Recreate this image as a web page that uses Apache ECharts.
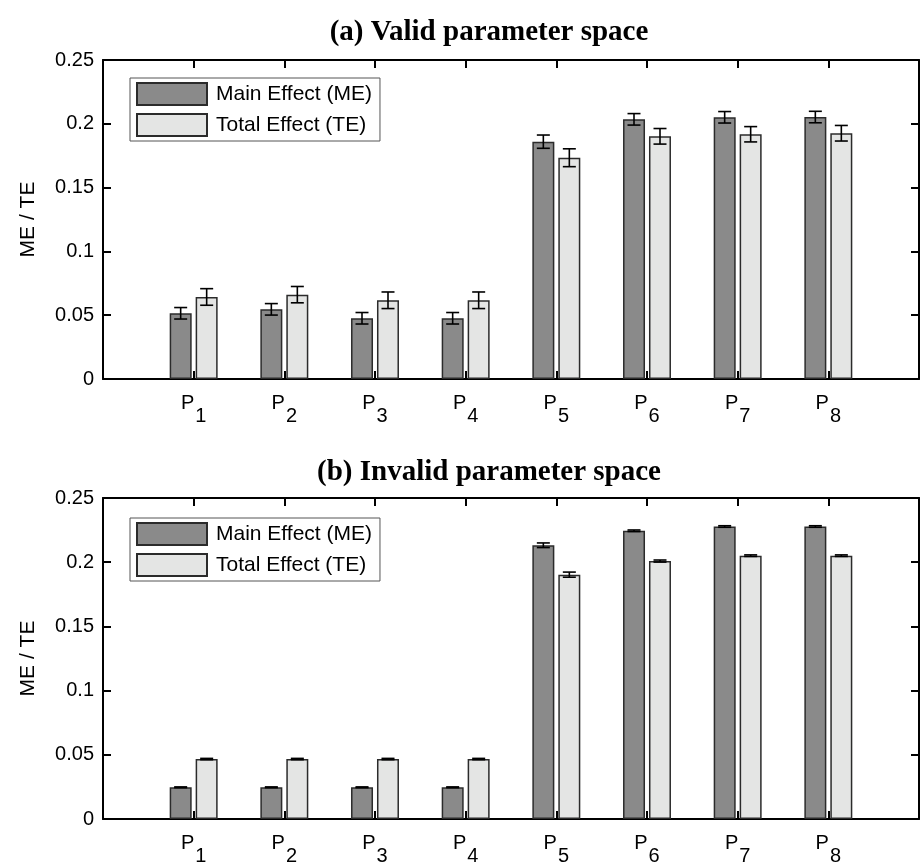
<!DOCTYPE html>
<html>
<head>
<meta charset="utf-8">
<script src="https://cdn.jsdelivr.net/npm/echarts@6/dist/echarts.min.js"></script>
<style>html,body{margin:0;padding:0;background:#fff}#c{width:921px;height:862px}</style>
</head>
<body>
<div id="c"></div>
<script>
// ---- data ----
const categories = ['1', '2', '3', '4', '5', '6', '7', '8'];
const xPositions = [1, 2, 3, 4, 5, 6, 7, 8];
const yTickLabels = ['0', '0.05', '0.1', '0.15', '0.2', '0.25'];
const seriesNames = ['Main Effect (ME)', 'Total Effect (TE)'];
const titles = ['(a) Valid parameter space', '(b) Invalid parameter space'];

// (a) valid parameter space
const meValid    = [0.0515, 0.0546, 0.0476, 0.0476, 0.1860, 0.2035, 0.2051, 0.2053];
const meValidErr = [0.0045, 0.0045, 0.0045, 0.0045, 0.0052, 0.0045, 0.0045, 0.0045];
const teValid    = [0.0643, 0.0661, 0.0617, 0.0617, 0.1734, 0.1902, 0.1918, 0.1926];
const teValidErr = [0.0065, 0.0064, 0.0065, 0.0065, 0.0070, 0.0061, 0.0060, 0.0061];

// (b) invalid parameter space
const meInvalid    = [0.0247, 0.0247, 0.0247, 0.0247, 0.2132, 0.2245, 0.2278, 0.2278];
const meInvalidErr = [0.0003, 0.0003, 0.0003, 0.0003, 0.0018, 0.0006, 0.0006, 0.0006];
const teInvalid    = [0.0467, 0.0467, 0.0467, 0.0467, 0.1903, 0.2009, 0.2051, 0.2051];
const teInvalidErr = [0.0005, 0.0005, 0.0005, 0.0005, 0.0020, 0.0008, 0.0006, 0.0006];

// ---- styles ----
const FONT = '"Liberation Sans", Arial, sans-serif';
const SERIF = '"Liberation Serif", "Times New Roman", serif';
const ME_COLOR = '#8a8a8a';
const TE_COLOR = '#e4e5e4';
const EDGE = '#2b2b2b';
const BAR_OFFSET = 13;

const chart = echarts.init(document.getElementById('c'), null, {renderer: 'canvas'});

function pairs(vals) { return vals.map((v, i) => [xPositions[i], v]); }
function errData(vals, errs) { return vals.map((v, i) => [xPositions[i], v - errs[i], v + errs[i]]); }

function errSeries(name, vals, errs, xi, yi, off) {
  return {
    type: 'custom',
    name: name + ' err',
    xAxisIndex: xi, yAxisIndex: yi,
    z: 5,
    silent: true,
    data: errData(vals, errs),
    encode: {x: 0, y: [1, 2]},
    renderItem: function (params, api) {
      const lo = api.coord([api.value(0), api.value(1)]);
      const hi = api.coord([api.value(0), api.value(2)]);
      const cx = lo[0] + off;
      const hw = 6.5;
      const st = {stroke: '#000', lineWidth: 1.6};
      return {
        type: 'group',
        children: [
          {type: 'line', shape: {x1: cx, y1: lo[1], x2: cx, y2: hi[1]}, style: st},
          {type: 'line', shape: {x1: cx - hw, y1: lo[1], x2: cx + hw, y2: lo[1]}, style: st},
          {type: 'line', shape: {x1: cx - hw, y1: hi[1], x2: cx + hw, y2: hi[1]}, style: st}
        ]
      };
    }
  };
}

function barSeries(name, vals, color, xi, yi) {
  return {
    type: 'bar',
    name: name,
    xAxisIndex: xi, yAxisIndex: yi,
    barWidth: 22,
    barGap: '18%',
    z: 2,
    data: pairs(vals),
    itemStyle: {color: color, borderColor: EDGE, borderWidth: 1.5},
    emphasis: {disabled: true}
  };
}

const xLabelFmt = function (v) {
  const idx = xPositions.indexOf(v);
  return idx >= 0 ? '{p|P}{s|' + categories[idx] + '}' : '';
};

function xAxes(gridIndex) {
  const common = {
    type: 'value', gridIndex: gridIndex, min: 0, max: 9, interval: 1,
    axisLine: {show: true, onZero: false, lineStyle: {color: '#000', width: 2}},
    axisTick: {show: true, inside: true, length: 8, lineStyle: {color: '#000', width: 2}},
    splitLine: {show: false}
  };
  return [
    Object.assign({}, common, {
      position: 'bottom',
      axisLabel: {
        show: true, margin: 14, formatter: xLabelFmt,
        rich: {
          p: {fontFamily: FONT, fontSize: 20, color: '#000', verticalAlign: 'top', lineHeight: 20},
          s: {fontFamily: FONT, fontSize: 20, color: '#000', lineHeight: 46, padding: [0, 0, 0, 1]}
        }
      }
    }),
    Object.assign({}, common, {position: 'top', axisLabel: {show: false}})
  ];
}

function yAxes(gridIndex) {
  const common = {
    type: 'value', gridIndex: gridIndex, min: 0, max: 0.25, interval: 0.05,
    axisLine: {show: true, onZero: false, lineStyle: {color: '#000', width: 2}},
    axisTick: {show: true, inside: true, length: 8, lineStyle: {color: '#000', width: 2}},
    splitLine: {show: false}
  };
  return [
    Object.assign({}, common, {
      position: 'left',
      name: 'ME / TE', nameLocation: 'middle', nameGap: 64, nameRotate: 90,
      nameTextStyle: {fontFamily: FONT, fontSize: 21, color: '#000'},
      axisLabel: {
        show: true, margin: 9, fontFamily: FONT, fontSize: 20, color: '#000',
        formatter: function (v) { return yTickLabels[Math.round(v / 0.05)]; }
      }
    }),
    Object.assign({}, common, {position: 'right', axisLabel: {show: false}})
  ];
}

function legendFor(boxTop) {
  return {
    data: seriesNames,
    orient: 'vertical',
    left: 130, top: boxTop,
    icon: 'rect',
    itemWidth: 70, itemHeight: 22, itemGap: 7,
    padding: [4, 8, 4, 6],
    borderColor: '#555', borderWidth: 1, backgroundColor: '#fff',
    selectedMode: false,
    textStyle: {fontFamily: FONT, fontSize: 21, color: '#000', padding: [0, 0, 0, 4]}
  };
}

const option = {
  animation: false,
  backgroundColor: '#fff',
  title: [
    {text: titles[0], left: 484, top: 13, textAlign: 'center',
     textStyle: {fontFamily: SERIF, fontWeight: 'bold', fontSize: 29, color: '#000'}},
    {text: titles[1], left: 484, top: 453, textAlign: 'center',
     textStyle: {fontFamily: SERIF, fontWeight: 'bold', fontSize: 29, color: '#000'}}
  ],
  legend: [legendFor(78), legendFor(518)],
  grid: [
    {left: 103, top: 60, width: 816, height: 319, containLabel: false, outerBoundsMode: 'none'},
    {left: 103, top: 498, width: 816, height: 321, containLabel: false, outerBoundsMode: 'none'}
  ],
  xAxis: xAxes(0).concat(xAxes(1)),
  yAxis: yAxes(0).concat(yAxes(1)),
  series: [
    barSeries(seriesNames[0], meValid, ME_COLOR, 0, 0),
    barSeries(seriesNames[1], teValid, TE_COLOR, 0, 0),
    errSeries(seriesNames[0], meValid, meValidErr, 0, 0, -BAR_OFFSET),
    errSeries(seriesNames[1], teValid, teValidErr, 0, 0, BAR_OFFSET),
    barSeries(seriesNames[0], meInvalid, ME_COLOR, 2, 2),
    barSeries(seriesNames[1], teInvalid, TE_COLOR, 2, 2),
    errSeries(seriesNames[0], meInvalid, meInvalidErr, 2, 2, -BAR_OFFSET),
    errSeries(seriesNames[1], teInvalid, teInvalidErr, 2, 2, BAR_OFFSET)
  ]
};
chart.setOption(option);
</script>
</body>
</html>
